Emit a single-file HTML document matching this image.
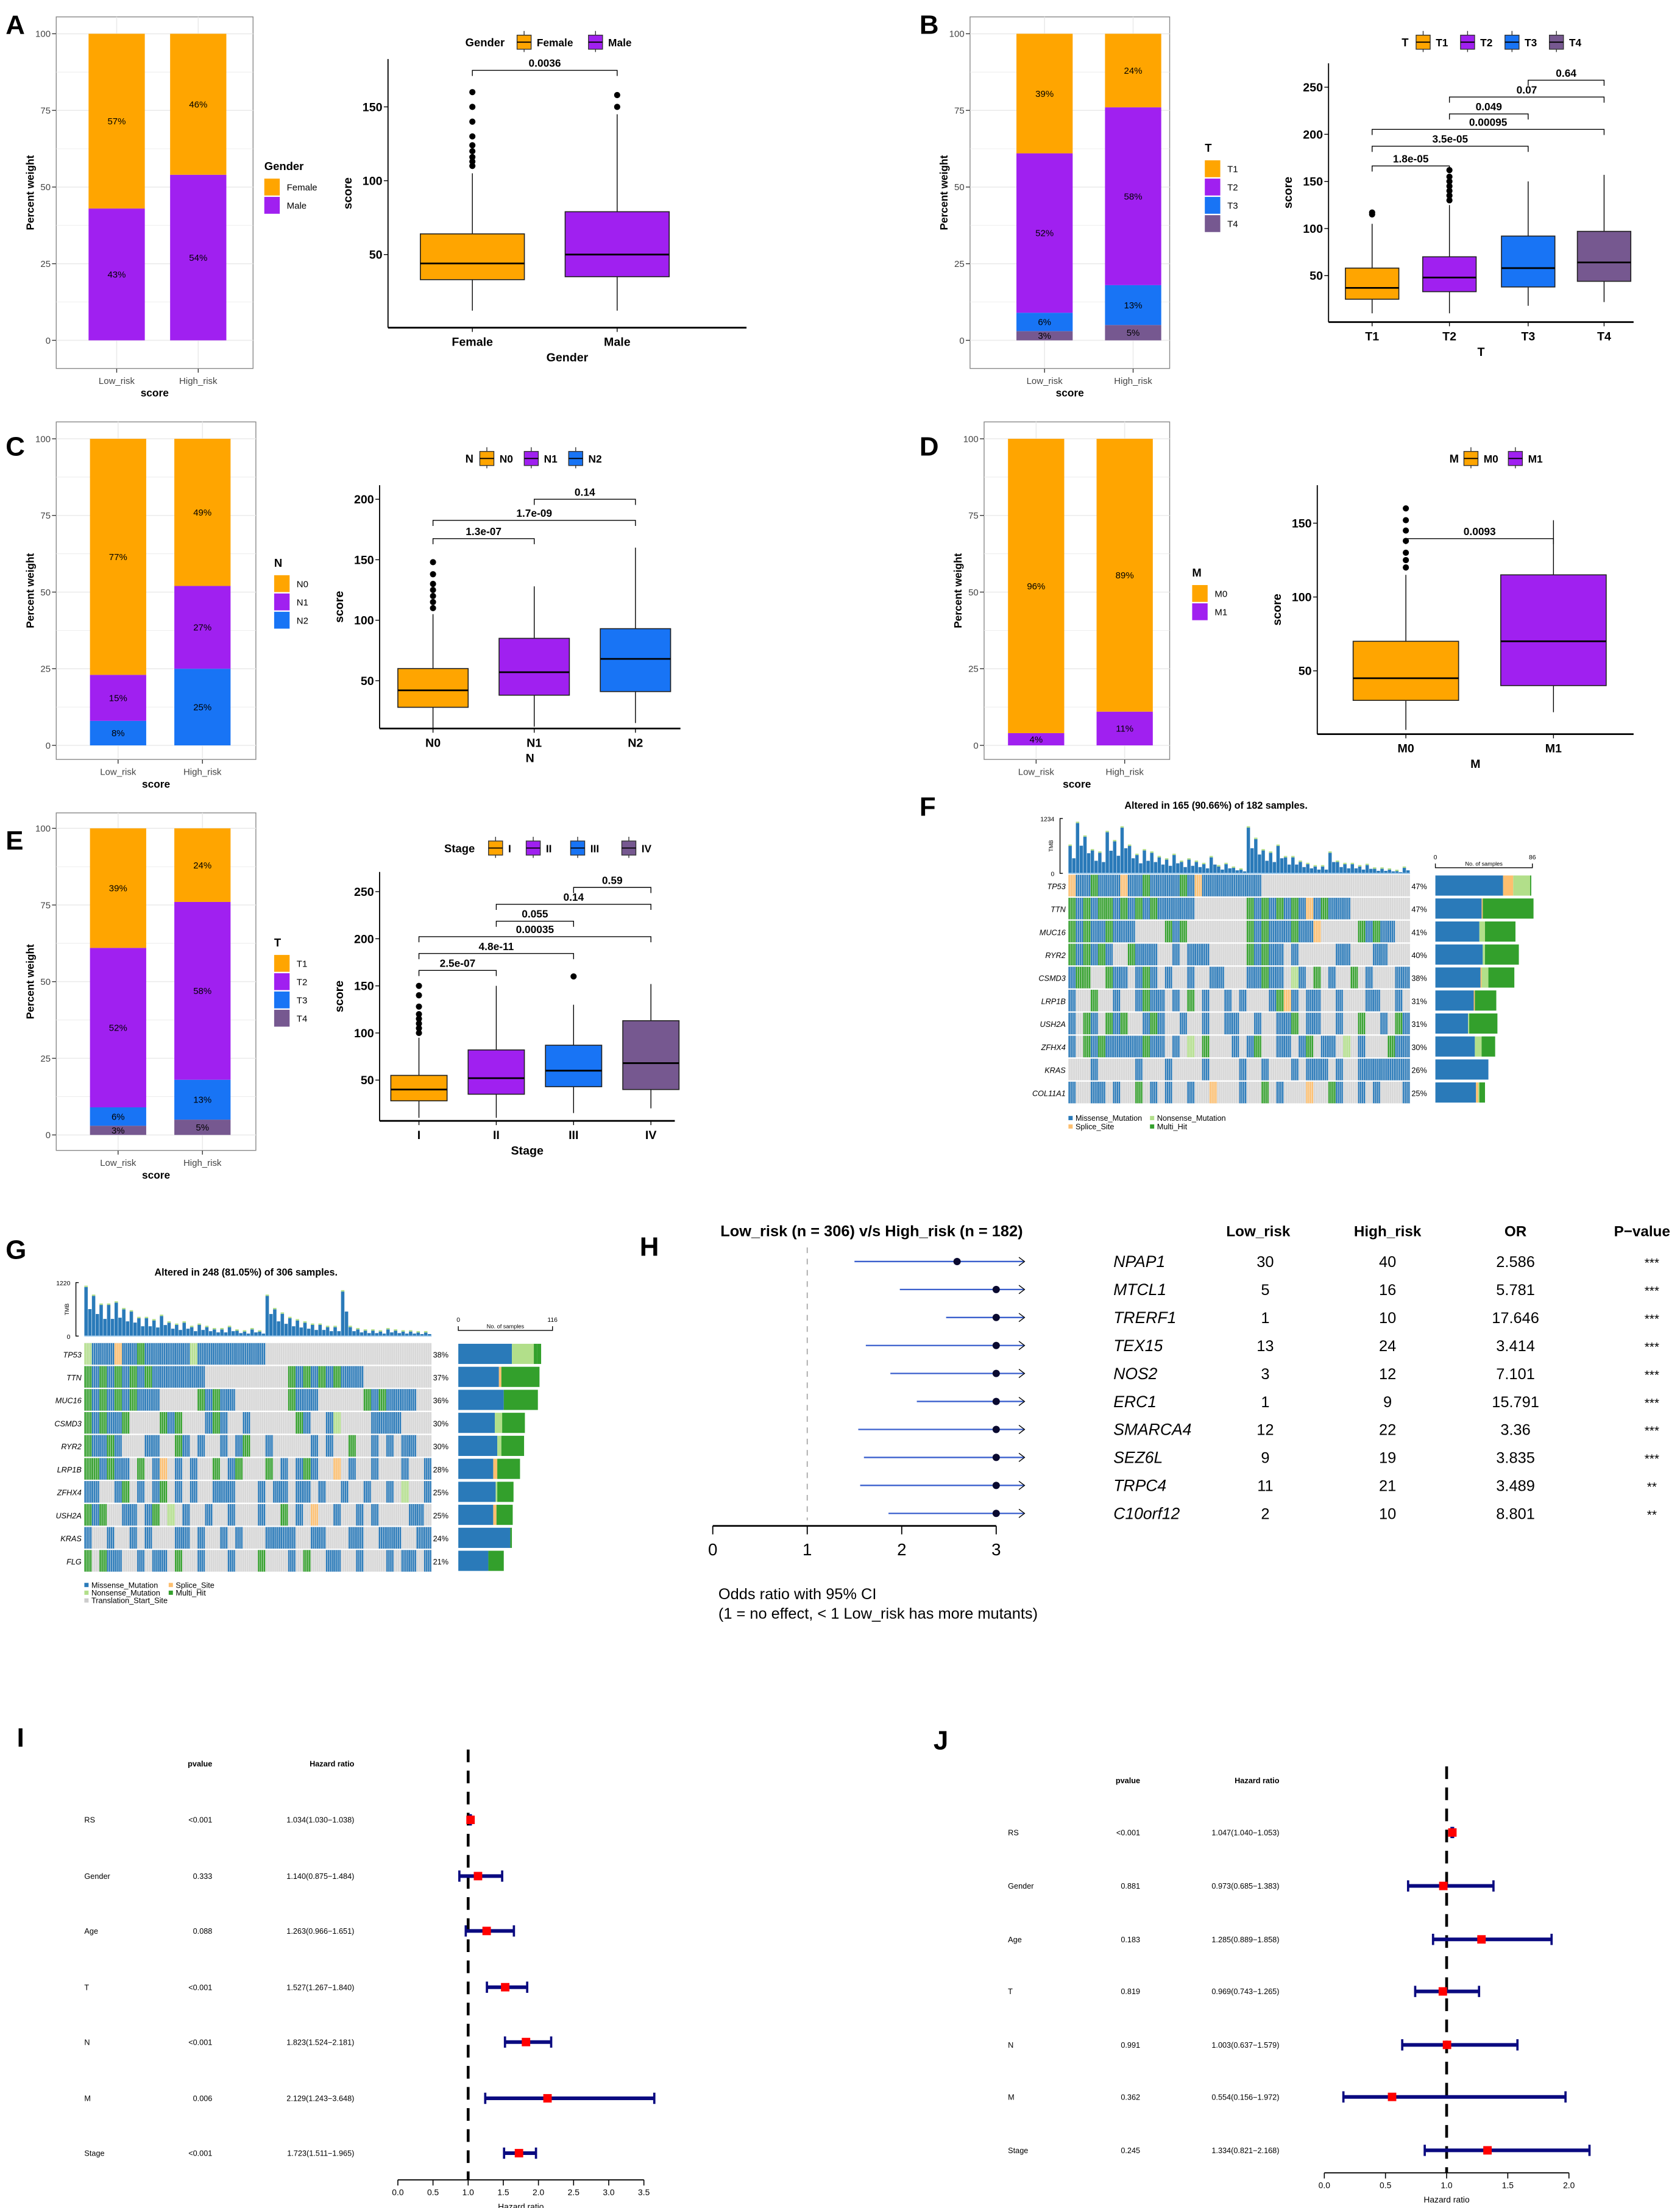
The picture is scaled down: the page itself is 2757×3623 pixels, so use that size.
<!DOCTYPE html>
<html><head><meta charset="utf-8">
<style>
html,body{margin:0;padding:0;background:#fff;}
svg{display:block;font-family:"Liberation Sans",sans-serif;}
</style></head>
<body>
<svg id="fig" xmlns="http://www.w3.org/2000/svg" width="2757" height="3623" viewBox="0 0 1195 1570" preserveAspectRatio="none"></svg>
<script>
// ===== DATA =====
const barGroups=["Low_risk","High_risk"];
const genderCats=["Male","Female"]; const genderLow=[43,57]; const genderHigh=[54,46];
const tCats=["T4","T3","T2","T1"]; const tLow=[3,6,52,39]; const tHigh=[5,13,58,24];
const nCats=["N2","N1","N0"]; const nLow=[8,15,77]; const nHigh=[25,27,49];
const mCats=["M1","M0"]; const mLow=[4,96]; const mHigh=[11,89];
const boxA=[[12,33,44,64,105],[12,35,50,79,145]]; const outA=[[110,113,116,120,124,130,140,150,160],[150,158]];
const boxB=[[10,25,37,58,105],[10,33,48,70,125],[18,38,58,92,150],[22,44,64,97,157]]; const outB=[[115,117],[130,135,140,145,150,155,162],[],[]];
const boxC=[[10,28,42,60,105],[12,38,57,85,128],[15,41,68,93,160]]; const outC=[[110,115,120,125,130,138,148],[],[]];
const boxD=[[10,30,45,70,115],[22,40,70,115,152]]; const outD=[[120,125,130,138,145,152,160],[]];
const boxE=[[10,28,40,55,95],[10,35,52,82,150],[15,43,60,87,130],[20,40,68,113,152]]; const outE=[[100,105,110,115,120,128,140,150],[],[160],[]];
const fGenes=["TP53","TTN","MUC16","RYR2","CSMD3","LRP1B","USH2A","ZFHX4","KRAS","COL11A1"];
const fPct=["47%","47%","41%","40%","38%","31%","31%","30%","26%","25%"];
const fRows=["obbgbbbobbgbbbbgbobbbbbbbb","gbgbggbgbgbgbbbbb.......gbgbgbgbobgbbb","gbgbbgbbb....gbg........gbgbbbgbbo.....gbgbb","gbgbgb..gbbb..b.bbb.....gbgbb.b.....bb...bb","bgg..gbb.bgb.b..b..bb...bbgbb.lb.g.b..g.b...bbb","b..g..b..bgbb.b.g.b..b.b...bgob.bb..b...bb..b.","b.gb.gbg..bgb..b..b..bb..b..bbg.bb..b..g..b.gb","b.gbgbbbbbgbb.b.l.g...b.bg..bb.bg.bb.l.b...gbb","...b.....b...b....b....b..b...b.bbb.b..bbbbbbb","b..bb.b..g.b.b..b..o...b..g.b...o..gb..b.b...b"];
const fSide=[[60,9,15,1],[41,1,0,45],[39,0,5,27],[42,0,2,30],[40,1,6,23],[34,1,0,19],[29,0,1,25],[35,0,6,12],[47,0,0,0],[36,2,1,5]];
const fTmb=[60,110,80,50,45,90,70,100,60,40,50,45,35,30,40,25,30,25,20,35,15,20,12,8,100,75,50,45,60,35,35,25,20,15,15,45,25,20,20,15,18,10,10,8,5,12];
const gGenes=["TP53","TTN","MUC16","CSMD3","RYR2","LRP1B","ZFHX4","USH2A","KRAS","FLG"];
const gPct=["38%","37%","36%","30%","30%","28%","25%","25%","24%","21%"];
const gRows=["lbbbobbgbbbbbblbbbbbbbbb","gbgbgbgbgbbbbbbb...........gbgbgbgbbb","gbgbgbgbbb.....gbgbb.......gbbb......gbgbbbb","gbgbbg....gbg...bgb..b......gb..bl....bbbb","gbbgb...bb..gb.b..b.bg..b.....b.b..g..b.b.bb..bbb","ggbgbb.g.bo.b.b..g.bg...g.b.bgb..o.b..b...b..b.b","bb..bg.b.bg.b.b..bbb...b.bb.bb.b..b..b..b.l..b.b","gbg..bb.bg.l.b..b..b...b..g.b.o..b..b.b....bb.","b..b..b.b...bb.b..b.b...bbbb..bb...bb..bbb..bbbb","g.gbb..b.bb.g..b...b...g...b.g..bb..b...b.bb.b"];
const gSide=[[66,0,27,4,5],[50,3,0,47],[56,0,0,42],[45,0,9,28],[48,0,5,28],[43,5,0,28],[46,0,2,20],[43,4,0,20],[64,0,0,2],[37,0,0,19]];
const gTmb=[110,90,70,70,75,60,55,40,40,35,45,30,25,30,20,25,20,15,15,20,12,10,15,10,90,60,50,40,35,30,25,25,20,20,100,20,15,12,12,10,15,12,10,10,8,8];
const hGenes=["NPAP1","MTCL1","TRERF1","TEX15","NOS2","ERC1","SMARCA4","SEZ6L","TRPC4","C10orf12"];
const hLow=["30","5","1","13","3","1","12","9","11","2"];
const hHigh=["40","16","10","24","12","9","22","19","21","10"];
const hOR=[2.586,5.781,17.646,3.414,7.101,15.791,3.36,3.835,3.489,8.801];
const hLower=[1.5,1.98,2.47,1.62,1.88,2.16,1.54,1.6,1.56,1.86];
const hP=["***","***","***","***","***","***","***","***","**","**"];
const iVars=["RS","Gender","Age","T","N","M","Stage"];
const iP=["<0.001","0.333","0.088","<0.001","<0.001","0.006","<0.001"];
const iHR=[1.034,1.140,1.263,1.527,1.823,2.129,1.723];
const iLo=[1.030,0.875,0.966,1.267,1.524,1.243,1.511];
const iHi=[1.038,1.484,1.651,1.840,2.181,3.648,1.965];
const jP=["<0.001","0.881","0.183","0.819","0.991","0.362","0.245"];
const jHR=[1.047,0.973,1.285,0.969,1.003,0.554,1.334];
const jLo=[1.040,0.685,0.889,0.743,0.637,0.156,0.821];
const jHi=[1.053,1.383,1.858,1.265,1.579,1.972,2.168];

// ===== HELPERS =====
const NS="http://www.w3.org/2000/svg", svg=document.getElementById('fig');
function el(tag,at,parent,txt){const e=document.createElementNS(NS,tag);for(const k in at)e.setAttribute(k,at[k]);if(txt!==undefined)e.textContent=txt;(parent||svg).appendChild(e);return e;}
function grp(name){const g=el('g',{});return g;}
const COL={T1:"#FFA500",T2:"#A020F0",T3:"#1874F5",T4:"#765890",N0:"#FFA500",N1:"#A020F0",N2:"#1874F5",M0:"#FFA500",M1:"#A020F0",Female:"#FFA500",Male:"#A020F0",I:"#FFA500",II:"#A020F0",III:"#1874F5",IV:"#765890"};
const MC={b:"#2A7AB9",g:"#33A02C",l:"#B2DF8A",o:"#FDBF6F",'.':"#D6D6D6"};

function letter(t,x,y){const e=el('text',{x:x,y:y,'font-size':19,'font-weight':'bold'},svg,t);}

function stackBar(name,px0,py0,px1,py1,y0,y100,cx,cats,low,high,legTitle,legCats,legX,legY){
  const g=grp(name);
  el('rect',{x:px0,y:py0,width:px1-px0,height:py1-py0,fill:'#fff',stroke:'#888','stroke-width':0.6},g);
  const ys=v=>y0+(y100-y0)*v/100;
  for(let v=0;v<=100;v+=12.5){el('line',{x1:px0,x2:px1,y1:ys(v),y2:ys(v),stroke:'#ebebeb','stroke-width':v%25?0.4:0.7},g);}
  cx.forEach(c=>el('line',{x1:c,x2:c,y1:py0,y2:py1,stroke:'#ebebeb','stroke-width':0.7},g));
  [0,25,50,75,100].forEach(v=>{el('line',{x1:px0-3,x2:px0,y1:ys(v),y2:ys(v),stroke:'#333','stroke-width':0.6},g);
    el('text',{x:px0-4,y:ys(v)+2.3,'font-size':6.5,fill:'#444','text-anchor':'end'},g,v);});
  [low,high].forEach((arr,i)=>{let acc=0;arr.forEach((v,k)=>{
    const r=el('rect',{x:cx[i]-20,y:ys(Math.min(100,acc+v)),width:40,height:ys(acc)-ys(Math.min(100,acc+v)),fill:COL[cats[k]]},g);
    
    el('text',{x:cx[i],y:(ys(acc)+ys(Math.min(100,acc+v)))/2+2.3,'font-size':6.5,'text-anchor':'middle'},g,v+'%');
    acc+=v;});
    el('line',{x1:cx[i],x2:cx[i],y1:py1,y2:py1+3,stroke:'#333','stroke-width':0.6},g);
    el('text',{x:cx[i],y:py1+11,'font-size':6.5,fill:'#444','text-anchor':'middle'},g,barGroups[i]);});
  el('text',{x:(px0+px1)/2,y:py1+20,'font-size':7.5,'font-weight':'bold','text-anchor':'middle'},g,'score');
  el('text',{x:0,y:0,'font-size':7.5,'font-weight':'bold','text-anchor':'middle',transform:`translate(${px0-16},${(py0+py1)/2}) rotate(-90)`},g,'Percent weight');
  el('text',{x:legX,y:legY,'font-size':8,'font-weight':'bold'},g,legTitle);
  legCats.forEach((c,k)=>{el('rect',{x:legX,y:legY+6+k*13,width:11,height:12,fill:COL[c]},g);
    el('text',{x:legX+16,y:legY+14.5+k*13,'font-size':6.5},g,c);});
}

function boxPlot(name,ax0,ay0,ax1,ay1,ticks,tickY,centers,cats,bw,stats,outs,brackets,xTitle,legX,legY){
  const g=grp(name);
  const ys=v=>tickY[0]+(tickY[1]-tickY[0])*(v-ticks[0])/(ticks[1]-ticks[0]);
  el('line',{x1:ax0,x2:ax0,y1:ay0,y2:ay1,stroke:'#000','stroke-width':0.8},g);
  el('line',{x1:ax0,x2:ax1,y1:ay1,y2:ay1,stroke:'#000','stroke-width':1.2},g);
  const step=ticks[1]-ticks[0];
  for(let v=ticks[0];ys(v)>ay0;v+=step){el('line',{x1:ax0-3,x2:ax0,y1:ys(v),y2:ys(v),stroke:'#000','stroke-width':0.6},g);
    el('text',{x:ax0-4,y:ys(v)+3,'font-size':8.5,'font-weight':'bold','text-anchor':'end'},g,v);}
  el('text',{x:0,y:0,'font-size':8.5,'font-weight':'bold','text-anchor':'middle',transform:`translate(${ax0-26},${(ay0+ay1)/2}) rotate(-90)`},g,'score');
  stats.forEach((s,i)=>{const c=centers[i];
    el('line',{x1:c,x2:c,y1:ys(s[0]),y2:ys(s[4]),stroke:'#000','stroke-width':0.6},g);
    const r=el('rect',{x:c-bw/2,y:ys(s[3]),width:bw,height:ys(s[1])-ys(s[3]),fill:COL[cats[i]],stroke:'#222','stroke-width':0.7},g);
    
    el('line',{x1:c-bw/2,x2:c+bw/2,y1:ys(s[2]),y2:ys(s[2]),stroke:'#000','stroke-width':1.2},g);
    outs[i].forEach(o=>el('circle',{cx:c,cy:ys(o),r:2.2,fill:'#000'},g));
    el('line',{x1:c,x2:c,y1:ay1,y2:ay1+3,stroke:'#000','stroke-width':0.6},g);
    el('text',{x:c,y:ay1+13,'font-size':8.5,'font-weight':'bold','text-anchor':'middle'},g,cats[i]);});
  el('text',{x:(ax0+ax1)/2,y:ay1+24,'font-size':8.5,'font-weight':'bold','text-anchor':'middle'},g,xTitle);
  brackets.forEach(b=>{const x1=centers[b[0]],x2=centers[b[1]];
    el('path',{d:`M${x1},${b[2]+4}V${b[2]}H${x2}V${b[2]+4}`,fill:'none',stroke:'#000','stroke-width':0.6},g);
    el('text',{x:(x1+x2)/2,y:b[2]-2.5,'font-size':7.5,'font-weight':'bold','text-anchor':'middle'},g,b[3]);});
  let x=legX;el('text',{x:x,y:legY+3,'font-size':8,'font-weight':'bold'},g,xTitle);x+=xTitle.length*5.3+5;
  cats.forEach(c=>{el('line',{x1:x+5,x2:x+5,y1:legY-8,y2:legY+7,stroke:'#333','stroke-width':0.6},g);
    el('rect',{x:x,y:legY-5,width:10,height:10,fill:COL[c],stroke:'#333','stroke-width':0.6},g);
    el('line',{x1:x,x2:x+10,y1:legY,y2:legY,stroke:'#000','stroke-width':0.8},g);
    el('text',{x:x+14,y:legY+3,'font-size':7.5,'font-weight':'bold'},g,c);x+=14+c.length*4.8+8;});
}

function oncoplot(name,title,tx,ty,hx0,hx1,tmbY0,tmbY1,rowY0,rowH,genes,pct,rows,side,tmb,maxN,tmbMax,sx0,sx1,legY,legItems){
  const g=grp(name);
  el('text',{x:tx,y:ty,'font-size':7,'font-weight':'bold','text-anchor':'middle'},g,title);
  const n=46,cw=(hx1-hx0)/n,sub=cw/4;
  el('path',{d:`M${hx0-4},${tmbY0}h-2V${tmbY1}h2`,fill:'none',stroke:'#000','stroke-width':0.6},g);
  el('text',{x:hx0-10,y:tmbY0+2,'font-size':4.5,'text-anchor':'end'},g,tmbMax);
  el('text',{x:hx0-10,y:tmbY1+2,'font-size':4.5,'text-anchor':'end'},g,'0');
  el('text',{x:0,y:0,'font-size':4,'text-anchor':'middle',transform:`translate(${hx0-11},${(tmbY0+tmbY1)/2}) rotate(-90)`},g,'TMB');
  const hs=v=>(tmbY1-tmbY0)*v/120;
  tmb.forEach((v,i)=>{el('rect',{x:hx0+i*cw,y:tmbY1-hs(v),width:cw*0.45,height:hs(v),fill:'#2A7AB9'},g);
    el('rect',{x:hx0+i*cw+cw*0.5,y:tmbY1-hs(v)*0.55,width:cw*0.45,height:hs(v)*0.55,fill:'#2A7AB9'},g);
    el('rect',{x:hx0+i*cw,y:tmbY1-hs(v)-1,width:cw*0.45,height:1,fill:'#B2DF8A'},g);});
  el('line',{x1:hx0,x2:hx1,y1:tmbY1,y2:tmbY1,stroke:'#9cc8ea','stroke-width':0.8},g);
  rows.forEach((r,ri)=>{const s=(r+'.'.repeat(n)).slice(0,n);const y=rowY0+ri*rowH;
    el('rect',{x:hx0,y:y,width:hx1-hx0,height:rowH-1,fill:'#D6D6D6'},g);
    for(let i=0;i<n;i++){if(s[i]!=='.')el('rect',{x:hx0+i*cw,y:y,width:cw,height:rowH-1,fill:MC[s[i]]},g);
      for(let k=1;k<=4;k++)el('rect',{x:hx0+i*cw+k*sub-0.25,y:y,width:0.3,height:rowH-1,fill:'#f2f2f2'},g);}
    el('text',{x:hx0-2,y:y+rowH/2+2,'font-size':5.5,'font-style':'italic','text-anchor':'end'},g,genes[ri]);
    el('text',{x:hx1+1,y:y+rowH/2+2,'font-size':5.5},g,pct[ri]);
    let x=sx0;const sc=(sx1-sx0)/maxN;const cols=['#2A7AB9','#FDBF6F','#B2DF8A','#33A02C','#33A02C'];
    side[ri].forEach((v,k)=>{if(v>0){el('rect',{x:x,y:y+0.5,width:v*sc,height:rowH-2,fill:cols[k]},g);x+=v*sc;}});});
  el('path',{d:`M${sx0},${tmbY1-7}v3H${sx1}v-3`,fill:'none',stroke:'#000','stroke-width':0.6},g);
  el('text',{x:sx0,y:tmbY1-10,'font-size':4.5,'text-anchor':'middle'},g,'0');
  el('text',{x:sx1,y:tmbY1-10,'font-size':4.5,'text-anchor':'middle'},g,maxN);
  el('text',{x:(sx0+sx1)/2,y:tmbY1-5.5,'font-size':4,'text-anchor':'middle'},g,'No. of samples');
  legItems.forEach(it=>{el('rect',{x:it[0],y:legY+it[1]-3.5,width:3,height:3,fill:it[3]},g);
    el('text',{x:it[0]+5,y:legY+it[1],'font-size':5.5},g,it[2]);});
}

function forestHR(name,x0,unit,axY,ticks,rowsY,labX,pX,hrX,headY,P,HR,LO,HI,dashTop){
  const g=grp(name);
  const xs=v=>x0+unit*v;
  el('text',{x:pX,y:headY,'font-size':5.5,'font-weight':'bold','text-anchor':'end'},g,'pvalue');
  el('text',{x:hrX+50,y:headY,'font-size':5.5,'font-weight':'bold','text-anchor':'end'},g,'Hazard ratio');
  el('line',{x1:xs(1),x2:xs(1),y1:dashTop,y2:axY,stroke:'#000','stroke-width':2,'stroke-dasharray':'9,6'},g);
  iVars.forEach((v,i)=>{const y=rowsY[i];
    el('text',{x:labX,y:y+2,'font-size':5.5},g,v);
    el('text',{x:pX,y:y+2,'font-size':5.5,'text-anchor':'end'},g,P[i]);
    el('text',{x:hrX+50,y:y+2,'font-size':5.5,'text-anchor':'end'},g,HR[i].toFixed(3)+'('+LO[i].toFixed(3)+'\u2212'+HI[i].toFixed(3)+')');
    el('line',{x1:xs(LO[i]),x2:xs(HI[i]),y1:y,y2:y,stroke:'#0a0a80','stroke-width':2.6},g);
    [LO[i],HI[i]].forEach(b=>el('line',{x1:xs(b),x2:xs(b),y1:y-4,y2:y+4,stroke:'#0a0a80','stroke-width':1.6},g));
    const p=el('rect',{x:xs(HR[i])-3,y:y-3,width:6,height:6,fill:'#f00'},g);
    });
  el('line',{x1:xs(ticks[0]),x2:xs(ticks[ticks.length-1]),y1:axY,y2:axY,stroke:'#000','stroke-width':0.8},g);
  ticks.forEach(t=>{el('line',{x1:xs(t),x2:xs(t),y1:axY,y2:axY+4,stroke:'#000','stroke-width':0.7},g);
    el('text',{x:xs(t),y:axY+11,'font-size':6,'text-anchor':'middle'},g,t.toFixed(1));});
  el('text',{x:(xs(ticks[0])+xs(ticks[ticks.length-1]))/2,y:axY+21,'font-size':6,'text-anchor':'middle'},g,'Hazard ratio');
}

// ===== PANELS =====
letter('A',4,24);letter('B',654,24);letter('C',4,324);letter('D',654,324);letter('E',4,604);letter('F',654,580);letter('G',4,895);letter('H',455,893);letter('I',12,1242);letter('J',664,1244);

stackBar('panel-a-bar',40,12,180,262,242,24,[83,141],genderCats,genderLow,genderHigh,'Gender',['Female','Male'],188,121);
boxPlot('panel-a-box',276,42,531,233,[50,100],[181,128.5],[336,439],['Female','Male'],74,[boxA[0],boxA[1]],outA,[[0,1,50,'0.0036']],'Gender',331,30);

stackBar('panel-b-bar',690,12,832,262,242,24,[743,806],tCats,tLow,tHigh,'T',['T1','T2','T3','T4'],857,108);
boxPlot('panel-b-box',945,45,1162,229,[50,100],[196,162.5],[976,1031,1087,1141],['T1','T2','T3','T4'],38,boxB,outB,
 [[0,1,118,'1.8e-05'],[0,2,104,'3.5e-05'],[0,3,92,'0.00095'],[1,2,81,'0.049'],[1,3,69,'0.07'],[2,3,57,'0.64']],'T',997,30);

stackBar('panel-c-bar',40,300,182,540,530,312,[84,144],nCats,nLow,nHigh,'N',['N0','N1','N2'],195,403);
boxPlot('panel-c-box',270,345,484,518,[50,100],[484,441],[308,380,452],['N0','N1','N2'],50,boxC,outC,
 [[0,1,383,'1.3e-07'],[0,2,370,'1.7e-09'],[1,2,355,'0.14']],'N',331,326);

stackBar('panel-d-bar',700,300,832,540,530,312,[737,800],mCats,mLow,mHigh,'M',['M0','M1'],848,410);
boxPlot('panel-d-box',937,345,1162,522,[50,100],[477,424.5],[1000,1105],['M0','M1'],75,boxD,outD,[[0,1,383,'0.0093']],'M',1031,326);

stackBar('panel-e-bar',40,578,182,818,807,589,[84,144],tCats,tLow,tHigh,'T',['T1','T2','T3','T4'],195,673);
boxPlot('panel-e-box',270,620,480,797,[50,100],[768,734.5],[298,353,408,463],['I','II','III','IV'],40,boxE,outE,
 [[0,1,690,'2.5e-07'],[0,2,678,'4.8e-11'],[0,3,666,'0.00035'],[1,2,655,'0.055'],[1,3,643,'0.14'],[2,3,631,'0.59']],'Stage',316,603);

oncoplot('panel-f-oncoplot','Altered in 165 (90.66%) of 182 samples.',865,575,760,1003,582,621,622,16.35,fGenes,fPct,fRows,fSide,fTmb,86,'1234',1021,1090,797,
 [[760,0,'Missense_Mutation','#2A7AB9'],[818,0,'Nonsense_Mutation','#B2DF8A'],[760,6,'Splice_Site','#FDBF6F'],[818,6,'Multi_Hit','#33A02C']]);
oncoplot('panel-g-oncoplot','Altered in 248 (81.05%) of 306 samples.',175,907,60,307,912,950,955,16.35,gGenes,gPct,gRows,gSide,gTmb,116,'1220',326,393,1129,
 [[60,0,'Missense_Mutation','#2A7AB9'],[120,0,'Splice_Site','#FDBF6F'],[60,5.5,'Nonsense_Mutation','#B2DF8A'],[120,5.5,'Multi_Hit','#33A02C'],[60,11,'Translation_Start_Site','#ccc']]);

// H forest
(function(){const g=grp('panel-h-forest');
 const xs=v=>507+67.2*v; const y0=897, dy=19.9;
 el('text',{x:620,y:879,'font-size':11,'font-weight':'bold','text-anchor':'middle'},g,'Low_risk (n = 306) v/s High_risk (n = 182)');
 [['Low_risk',895],['High_risk',987],['OR',1078],['P\u2212value',1168]].forEach(h=>el('text',{x:h[1],y:879,'font-size':10.5,'font-weight':'bold','text-anchor':'middle'},g,h[0]));
 el('line',{x1:xs(1),x2:xs(1),y1:887,y2:1081,stroke:'#aaa','stroke-width':0.8,'stroke-dasharray':'4,4'},g);
 hGenes.forEach((gn,i)=>{const y=y0+i*dy;const pt=Math.min(3,hOR[i]);
  el('line',{x1:xs(hLower[i]),x2:xs(3.3),y1:y,y2:y,stroke:'#3a5fcd','stroke-width':1},g);
  el('path',{d:`M${xs(3.3)-4},${y-3}L${xs(3.3)},${y}L${xs(3.3)-4},${y+3}`,fill:'none',stroke:'#000','stroke-width':0.6},g);
  const c=el('circle',{cx:xs(pt),cy:y,r:2.6,fill:'#0a0a30'},g);
  el('text',{x:792,y:y+4,'font-size':11.5,'font-style':'italic'},g,gn);
  el('text',{x:900,y:y+4,'font-size':11,'text-anchor':'middle'},g,hLow[i]);
  el('text',{x:987,y:y+4,'font-size':11,'text-anchor':'middle'},g,hHigh[i]);
  el('text',{x:1078,y:y+4,'font-size':11,'text-anchor':'middle'},g,hOR[i]);
  el('text',{x:1175,y:y+4,'font-size':9,'text-anchor':'middle'},g,hP[i]);});
 el('line',{x1:xs(0),x2:xs(3),y1:1085,y2:1085,stroke:'#000','stroke-width':1.2},g);
 [0,1,2,3].forEach(t=>{el('line',{x1:xs(t),x2:xs(t),y1:1085,y2:1091,stroke:'#000','stroke-width':0.8},g);el('text',{x:xs(t),y:1106,'font-size':12,'text-anchor':'middle'},g,t);});
 el('text',{x:511,y:1137,'font-size':11},g,'Odds ratio with 95% CI');
 el('text',{x:511,y:1151,'font-size':11},g,'(1 = no effect, < 1 Low_risk has more mutants)');
})();

forestHR('panel-i-forest',283,50,1550,[0,0.5,1,1.5,2,2.5,3,3.5],[1294,1334,1373,1413,1452,1492,1531],60,151,202,1256,iP,iHR,iLo,iHi,1244);
forestHR('panel-j-forest',942,87,1545,[0,0.5,1,1.5,2],[1303,1341,1379,1416,1454,1491,1529],717,811,860,1268,jP,jHR,jLo,jHi,1256);
</script>
</body></html>
